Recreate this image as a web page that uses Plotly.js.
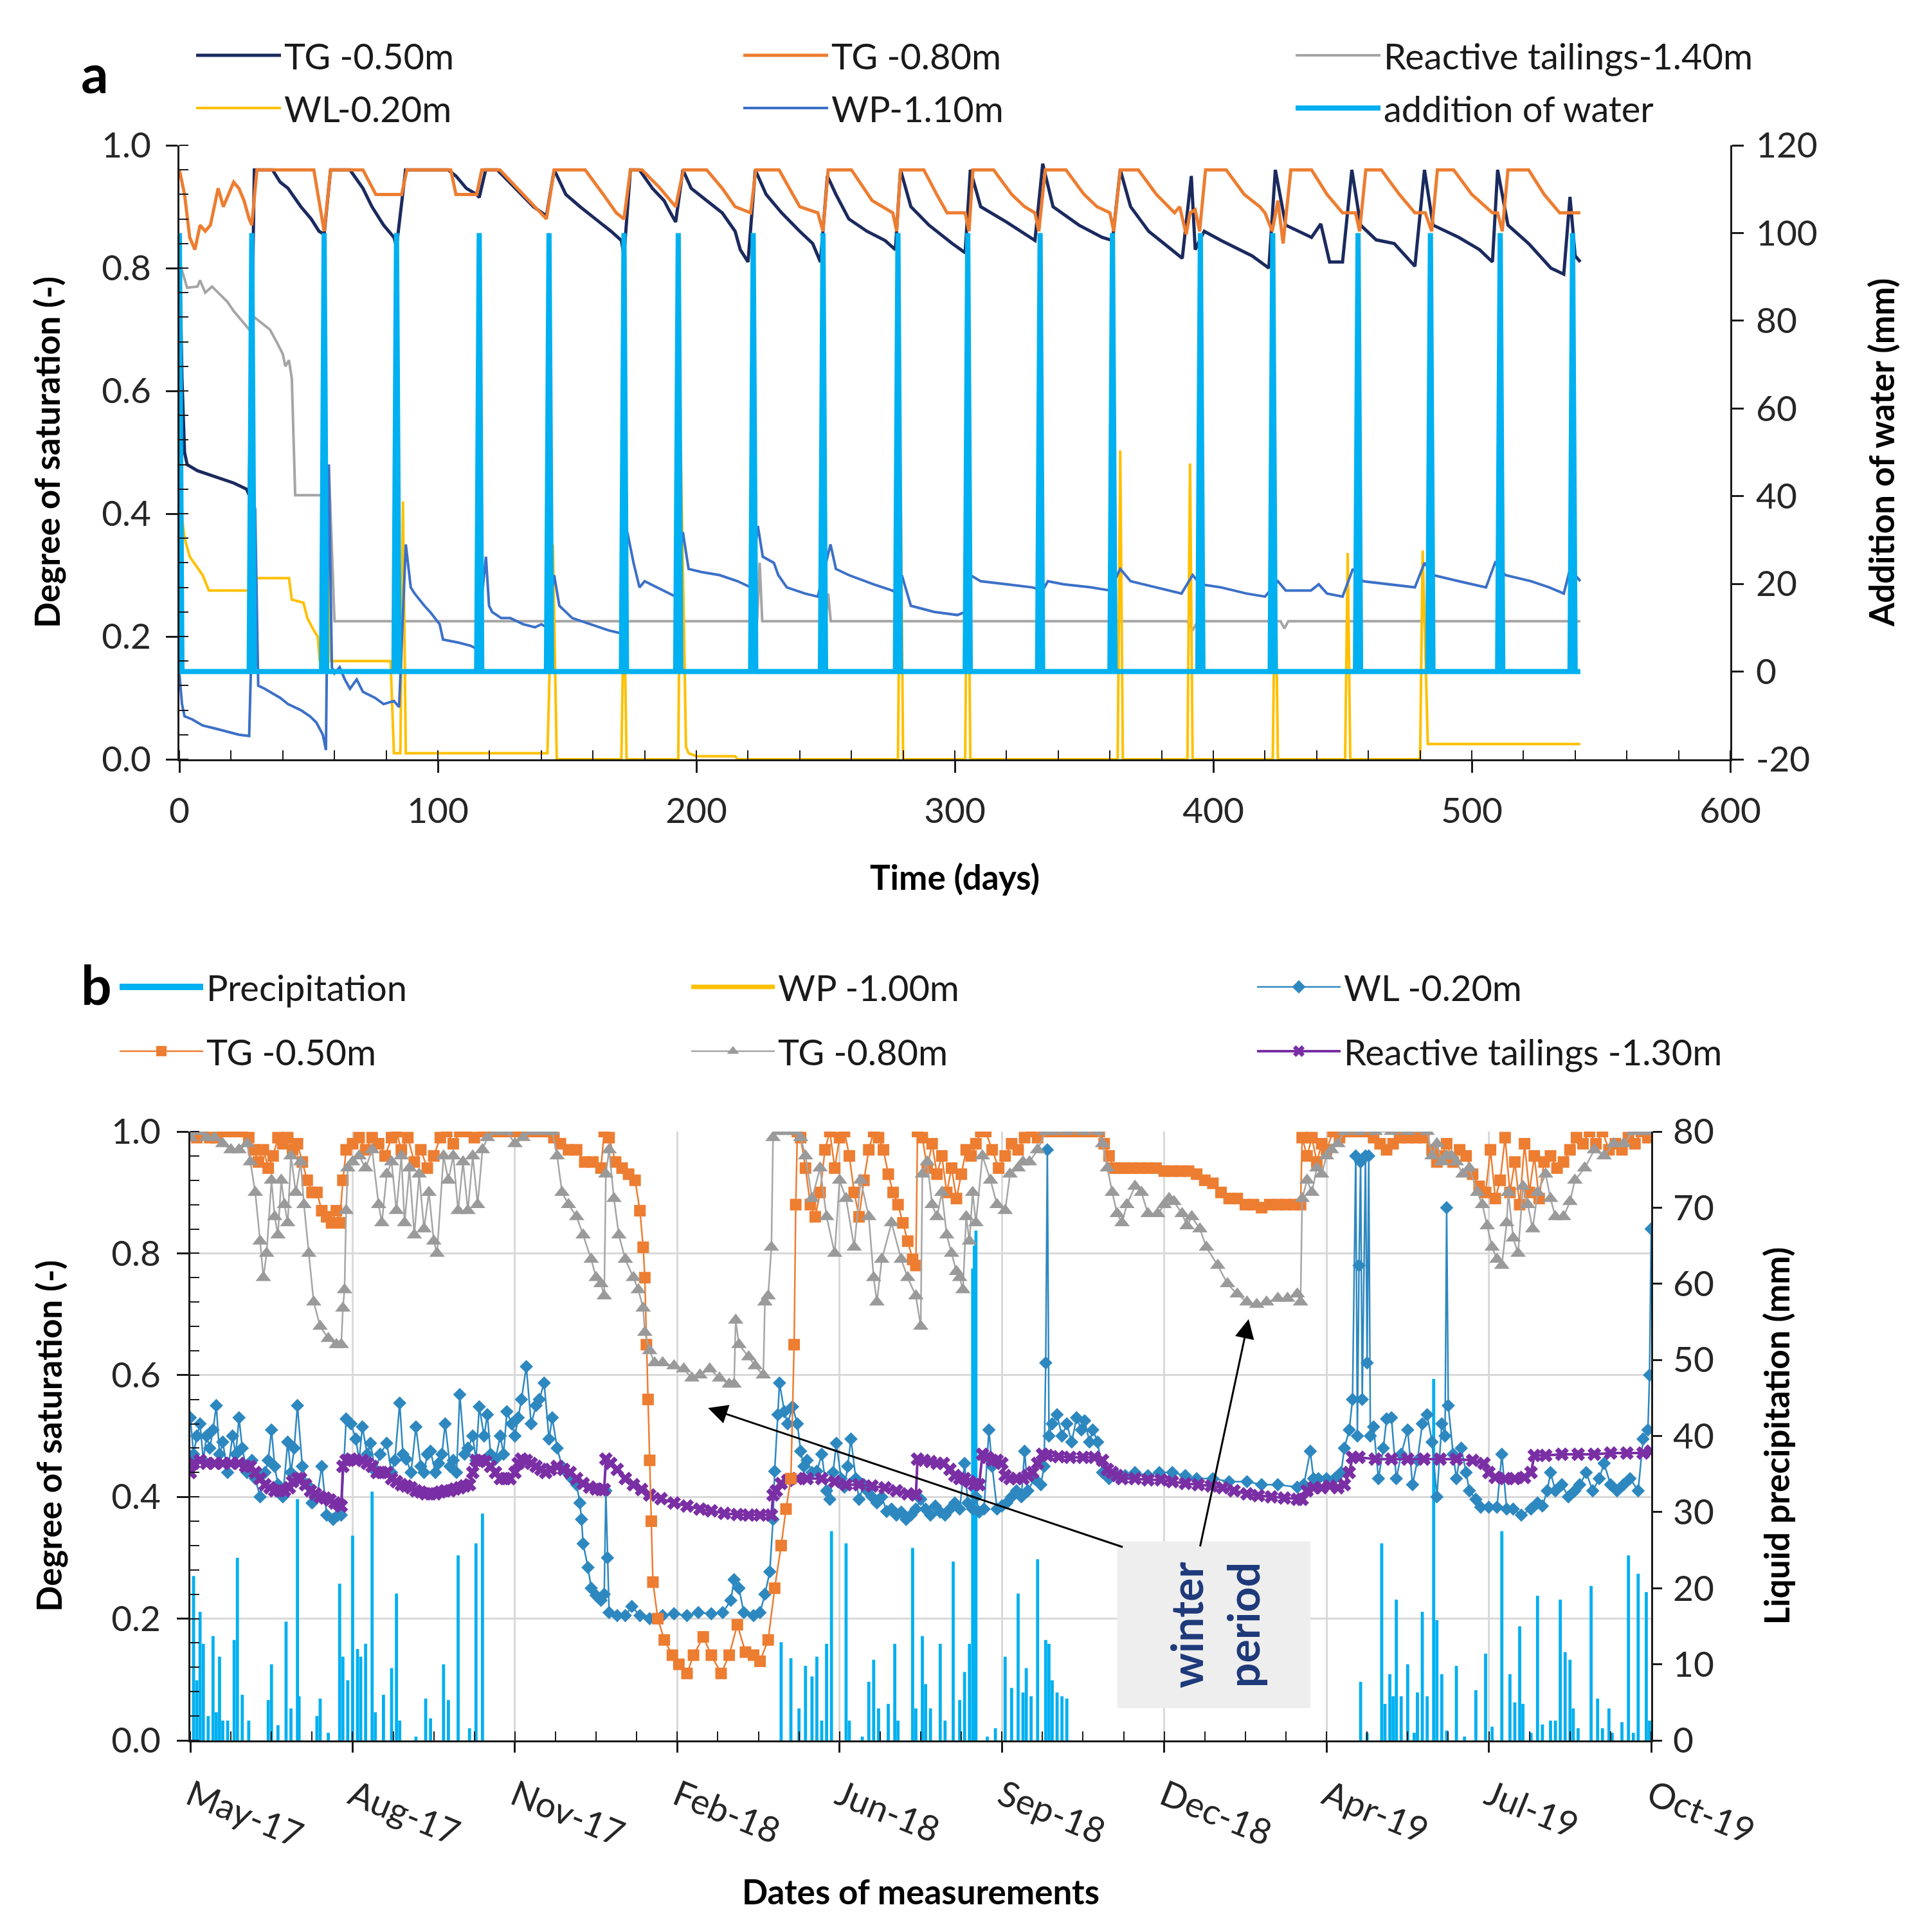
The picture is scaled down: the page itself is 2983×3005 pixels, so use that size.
<!DOCTYPE html>
<html><head><meta charset="utf-8">
<script src="https://cdn.plot.ly/plotly-3.0.1.min.js"></script>
<style>html,body{margin:0;padding:0;background:#fff}</style>
</head><body>
<div id="chart" style="width:2983px;height:3005px"></div>
<script>
// ---------------- Panel a data (day, value) ----------------
const aTG050 = [[0,0.85],[1,0.62],[2,0.5],[3,0.48],[7,0.47],[14,0.46],[21,0.45],[26,0.44],[27,0.43],[29,0.96],[36,0.96],[39,0.94],[42,0.93],[47,0.9],[51,0.88],[54,0.86],[56,0.855],[58.5,0.96],[66,0.96],[71,0.93],[74.5,0.9],[79,0.87],[83,0.85],[84,0.835],[87.5,0.96],[104,0.96],[107,0.95],[111,0.93],[115,0.92],[116,0.915],[118.5,0.96],[123,0.96],[130,0.93],[137,0.9],[142,0.885],[145,0.96],[149.5,0.92],[155,0.9],[161,0.88],[167,0.86],[171,0.845],[172,0.82],[174.5,0.96],[178,0.96],[183,0.93],[187.5,0.91],[190,0.89],[192,0.875],[194.8,0.96],[198,0.93],[204,0.91],[210,0.89],[215,0.86],[217,0.83],[220,0.81],[222.8,0.96],[227,0.92],[233,0.89],[240,0.86],[245,0.84],[248,0.81],[250.7,0.95],[254,0.92],[259,0.88],[266,0.86],[273,0.845],[277,0.83],[279,0.96],[283,0.9],[290,0.87],[299,0.84],[304,0.825],[306,0.96],[310,0.9],[320,0.875],[327,0.855],[331,0.845],[334,0.97],[338,0.9],[348,0.87],[357,0.85],[361,0.845],[364,0.96],[368,0.9],[375,0.86],[383,0.833],[388,0.816],[391.5,0.95],[393,0.83],[394.7,0.845],[396.5,0.86],[403,0.845],[410,0.83],[415,0.82],[421.5,0.8],[424,0.96],[428,0.87],[433,0.86],[438,0.85],[441.6,0.872],[445,0.81],[450,0.81],[453.6,0.96],[457,0.87],[463,0.846],[470,0.84],[478,0.803],[481.7,0.96],[485,0.87],[495,0.85],[503,0.83],[508,0.81],[510,0.96],[514,0.87],[522,0.84],[530.6,0.8],[535.6,0.79],[538,0.916],[540,0.82],[542,0.81]];
const aTG080 = [[0,0.96],[2,0.92],[4,0.85],[6,0.83],[8,0.87],[10,0.86],[12,0.87],[15,0.93],[17,0.9],[19,0.92],[21,0.94],[23,0.93],[25,0.91],[27,0.88],[28,0.87],[30,0.96],[52,0.96],[56,0.86],[58.5,0.96],[71,0.96],[76,0.92],[86,0.92],[88,0.96],[105,0.96],[107,0.92],[115,0.92],[117,0.96],[124,0.96],[133,0.92],[140,0.89],[142,0.88],[145,0.96],[157,0.96],[164,0.92],[169,0.89],[172,0.88],[174.5,0.96],[179,0.96],[186,0.93],[192,0.9],[195,0.96],[204,0.96],[210,0.93],[215,0.9],[221,0.89],[223,0.96],[232,0.96],[240,0.9],[247,0.89],[249,0.86],[251,0.96],[260,0.96],[265,0.93],[268,0.91],[276,0.89],[277.5,0.86],[279,0.96],[288,0.96],[293,0.92],[297,0.89],[304,0.89],[305.5,0.86],[307,0.96],[315,0.96],[322,0.92],[327,0.9],[331,0.89],[332.5,0.86],[335,0.96],[343,0.96],[350,0.92],[355,0.9],[360,0.89],[361.5,0.86],[364,0.96],[371,0.96],[378,0.92],[385,0.89],[387,0.9],[389.5,0.855],[391,0.89],[393,0.895],[394.7,0.86],[397,0.96],[405,0.96],[412,0.92],[418,0.9],[420,0.89],[422.8,0.86],[425,0.91],[427,0.84],[430,0.96],[438,0.96],[444,0.92],[450,0.89],[455,0.89],[456.6,0.86],[459,0.96],[465,0.96],[472,0.92],[478,0.89],[482,0.89],[484.5,0.86],[486.7,0.96],[493,0.96],[500,0.92],[508,0.89],[510,0.89],[511.8,0.86],[514,0.96],[522,0.96],[528,0.92],[534,0.89],[542,0.89]];
const aReactive = [[0,0.81],[3,0.768],[7,0.77],[8,0.78],[10,0.76],[12.6,0.77],[15,0.76],[18.6,0.745],[21,0.73],[23,0.72],[25,0.71],[27,0.7],[29,0.72],[32,0.71],[35,0.7],[37.6,0.68],[40,0.66],[41,0.64],[42.4,0.65],[43.5,0.62],[44.8,0.43],[56.7,0.43],[57.8,0.48],[60,0.225],[223.5,0.225],[224.5,0.32],[225.5,0.225],[250,0.225],[251,0.27],[252,0.225],[390,0.225],[392,0.21],[394,0.225],[426,0.225],[427.5,0.213],[429,0.225],[542,0.225]];
const aWL = [[0,0.43],[2,0.36],[4,0.33],[9,0.3],[11.4,0.275],[25.7,0.275],[27,0.275],[28,0.32],[29,0.295],[42.4,0.295],[43.5,0.26],[48,0.255],[49.5,0.23],[52,0.21],[53.5,0.2],[54.3,0.16],[57,0.16],[57.8,0.32],[58.6,0.16],[81.7,0.16],[83,0.01],[85.5,0.01],[86.5,0.42],[87.6,0.01],[142.4,0.01],[144.5,0.35],[146,0],[171,0],[172,0.27],[173,0],[193,0],[194,0.5],[196,0.02],[197,0.01],[200,0.005],[215,0.005],[216,0],[278,0],[279,0.473],[280,0],[304,0],[305,0.469],[306,0],[363,0],[364,0.503],[365,0],[390,0],[391,0.482],[392,0],[423,0],[424,0.33],[425,0],[451,0],[452,0.336],[453,0],[480,0],[481,0.34],[483,0.025],[542,0.025]];
const aWP = [[0,0.14],[1,0.09],[2,0.07],[5,0.065],[7,0.06],[9,0.055],[14,0.05],[19,0.045],[23,0.04],[27,0.038],[29.3,0.41],[30.5,0.12],[33,0.115],[39,0.1],[42,0.09],[47,0.08],[50.5,0.07],[53,0.06],[55.5,0.04],[56.7,0.015],[57.8,0.48],[59,0.15],[60,0.14],[62,0.15],[64,0.13],[66,0.115],[68.6,0.13],[71,0.11],[75.7,0.1],[79,0.09],[83,0.095],[85,0.085],[87.6,0.35],[89.5,0.28],[91,0.27],[94.8,0.25],[97,0.24],[100.7,0.22],[102,0.195],[108,0.19],[112.6,0.185],[115,0.18],[118.6,0.33],[119.8,0.25],[121,0.24],[124.5,0.23],[128,0.23],[133,0.22],[137.6,0.215],[140,0.22],[142,0.215],[145,0.3],[147,0.25],[152,0.23],[159,0.22],[166,0.21],[171,0.205],[173.3,0.37],[175.7,0.32],[178,0.28],[180,0.29],[185,0.28],[190,0.27],[192,0.265],[194.8,0.37],[197,0.31],[202,0.305],[209,0.3],[216,0.29],[221,0.28],[223.8,0.38],[225.7,0.33],[230,0.32],[231.7,0.3],[235,0.28],[242,0.27],[247,0.265],[251.9,0.35],[254,0.31],[259,0.3],[268.6,0.285],[275.7,0.275],[278,0.27],[279.5,0.3],[283,0.25],[292,0.24],[301,0.235],[304,0.24],[306,0.3],[310,0.29],[320,0.285],[330,0.28],[334,0.275],[336,0.29],[342,0.285],[352.6,0.28],[360,0.275],[364,0.31],[368,0.29],[377.7,0.28],[387.7,0.27],[392,0.3],[395,0.285],[403,0.28],[412.8,0.27],[420,0.265],[425,0.29],[428,0.275],[437.8,0.275],[440.8,0.285],[444,0.27],[450,0.265],[454,0.31],[457.9,0.29],[468,0.285],[478,0.28],[481.7,0.32],[485,0.3],[495,0.29],[505.5,0.28],[509,0.32],[513,0.3],[523,0.29],[530,0.28],[535.6,0.27],[538,0.31],[542,0.29]];
const aWater = [[0,100],[1,0],[27,0],[28,100],[29,0],[55,0],[56,100],[57,0],[83,0],[84,100],[85,0],[115,0],[116,100],[117,0],[142,0],[143,100],[144,0],[171,0],[172,100],[173,0],[192,0],[193,100],[194,0],[221,0],[222,100],[223,0],[248,0],[249,100],[250,0],[277,0],[278,100],[279,0],[304,0],[305,100],[306,0],[332,0],[333,100],[334,0],[360,0],[361,100],[362,0],[394,0],[395,100],[396,0],[422,0],[423,100],[424,0],[455,0],[456,100],[457,0],[483,0],[484,100],[485,0],[510,0],[511,100],[512,0],[538,0],[539,100],[540,0],[542,0]];
const aWaterTickVals = [-20,0,20,40,60,80,100,120];
const aWaterTickText = ['-20','0','20','40','60','80','100','120'];

// ---------------- Panel b data (days since 1 May 2017, value) ----------------
const bDateTickDays = [0,100,200,300,400,500,600,700,800,900];
const bDateTickText = ['May-17','Aug-17','Nov-17','Feb-18','Jun-18','Sep-18','Dec-18','Apr-19','Jul-19','Oct-19'];
const bTG050 = [[0,1.0],[4,0.99],[8,1.0],[12,0.99],[16,0.99],[20,1.0],[24,1.0],[28,1.0],[32,1.0],[36,0.99],[39,0.97],[42,0.95],[45,0.97],[48,0.94],[51,0.96],[54,0.99],[57,0.98],[60,0.99],[63,0.97],[66,0.98],[69,0.95],[72,0.92],[75,0.9],[78,0.9],[81,0.87],[84,0.86],[87,0.85],[90,0.87],[92,0.85],[94,0.92],[96,0.97],[100,0.98],[104,0.99],[108,0.97],[112,0.99],[116,0.98],[120,0.96],[124,0.99],[127,1.0],[130,0.97],[134,0.99],[138,0.95],[142,0.97],[146,0.94],[150,0.96],[154,0.99],[158,1.0],[162,0.98],[166,1.0],[170,1.0],[175,0.99],[180,1.0],[185,1.0],[190,1.0],[195,1.0],[200,1.0],[205,1.0],[210,1.0],[215,1.0],[220,1.0],[224,0.99],[228,0.98],[233,0.97],[238,0.97],[243,0.95],[248,0.95],[253,0.94],[255,1.0],[258,0.99],[262,0.95],[266,0.94],[270,0.93],[274,0.92],[277,0.87],[279,0.81],[280,0.76],[281,0.65],[282,0.56],[283,0.46],[284,0.36],[285,0.26],[288,0.2],[292,0.165],[297,0.14],[301,0.125],[306,0.11],[310,0.14],[316,0.17],[321,0.14],[327,0.11],[332,0.14],[337,0.19],[342,0.145],[347,0.14],[351,0.13],[356,0.165],[360,0.25],[364,0.32],[367,0.38],[370,0.43],[372,0.65],[373,0.88],[374,1.0],[376,0.99],[379,0.94],[382,0.88],[385,0.86],[388,0.9],[391,0.97],[394,1.0],[397,0.94],[400,0.99],[403,1.0],[406,0.96],[409,0.9],[412,0.86],[415,0.92],[418,0.97],[421,1.0],[424,0.99],[427,0.97],[430,0.93],[433,0.9],[436,0.88],[439,0.85],[442,0.82],[445,0.79],[447,0.78],[448,1.0],[451,0.99],[454,0.94],[457,0.98],[460,0.93],[463,0.96],[466,0.9],[469,0.94],[472,0.89],[475,0.93],[478,0.97],[481,0.96],[484,0.98],[487,1.0],[490,1.0],[494,0.97],[498,0.94],[502,0.96],[506,0.98],[510,0.97],[514,0.99],[518,1.0],[522,0.99],[526,1.0],[530,1.0],[535,1.0],[540,1.0],[545,1.0],[550,1.0],[555,1.0],[560,1.0],[563,0.98],[566,0.96],[569,0.94],[572,0.94],[576,0.94],[580,0.94],[585,0.94],[590,0.94],[595,0.94],[600,0.935],[605,0.935],[610,0.935],[615,0.935],[620,0.93],[625,0.92],[630,0.915],[635,0.9],[640,0.89],[645,0.89],[650,0.88],[655,0.88],[660,0.875],[665,0.88],[670,0.88],[675,0.88],[680,0.88],[684,0.88],[685,0.99],[688,0.96],[691,0.99],[694,0.95],[697,0.98],[700,0.97],[704,1.0],[708,0.99],[712,1.0],[716,1.0],[720,1.0],[725,1.0],[729,0.99],[733,0.98],[737,0.97],[741,0.98],[745,0.99],[750,0.99],[755,0.99],[760,0.99],[765,0.97],[768,0.95],[771,0.96],[774,0.98],[778,0.95],[782,0.97],[786,0.96],[790,0.93],[794,0.91],[798,0.9],[801,0.97],[804,0.89],[807,0.92],[810,0.99],[813,0.9],[816,0.95],[819,0.88],[822,0.98],[825,0.9],[828,0.96],[831,0.89],[834,0.95],[838,0.96],[842,0.94],[846,0.95],[850,0.97],[854,0.99],[858,0.98],[862,1.0],[866,0.98],[870,1.0],[874,0.97],[878,0.98],[882,0.97],[886,0.99],[890,0.98],[894,1.0],[898,0.99],[900,1.0]];
const bTG080 = [[0,0.99],[5,1.0],[10,0.99],[15,0.99],[20,0.98],[25,0.97],[30,0.97],[35,0.98],[37,0.95],[40,0.9],[43,0.82],[45,0.76],[47,0.8],[50,0.92],[52,0.86],[54,0.83],[56,0.92],[58,0.88],[60,0.85],[62,0.96],[65,0.9],[68,0.95],[70,0.88],[73,0.8],[76,0.72],[80,0.68],[85,0.66],[90,0.65],[93,0.65],[94,0.71],[95,0.74],[96,0.87],[97,0.94],[100,0.95],[104,0.96],[108,0.94],[112,0.97],[116,0.88],[118,0.85],[121,0.93],[124,0.95],[127,0.87],[130,0.96],[132,0.85],[135,0.94],[138,0.83],[141,0.93],[144,0.84],[147,0.9],[150,0.82],[152,0.8],[156,0.96],[159,0.92],[162,0.96],[165,0.87],[168,0.95],[171,0.87],[174,0.96],[177,0.88],[180,0.97],[183,0.99],[189,1.0],[195,1.0],[200,0.98],[205,0.99],[210,1.0],[215,1.0],[220,1.0],[223,1.0],[226,0.96],[229,0.9],[233,0.88],[238,0.86],[242,0.83],[247,0.79],[250,0.76],[253,0.75],[255,0.73],[256,0.93],[258,0.97],[261,0.89],[264,0.83],[268,0.79],[273,0.76],[276,0.74],[279,0.71],[280,0.67],[283,0.64],[286,0.62],[291,0.62],[298,0.615],[304,0.61],[309,0.595],[314,0.6],[320,0.61],[326,0.595],[332,0.585],[335,0.585],[336,0.69],[338,0.65],[344,0.63],[348,0.615],[353,0.6],[354,0.72],[356,0.73],[358,0.81],[359,0.99],[362,1.0],[367,1.0],[372,1.0],[376,0.99],[379,0.96],[383,0.89],[388,0.94],[392,0.86],[397,0.8],[400,0.92],[404,0.89],[409,0.81],[413,0.92],[418,0.86],[421,0.76],[423,0.72],[426,0.79],[432,0.85],[438,0.79],[442,0.76],[447,0.73],[450,0.68],[451,0.93],[454,0.95],[457,0.88],[460,0.86],[463,0.9],[466,0.83],[469,0.8],[472,0.77],[474,0.76],[476,0.74],[478,0.86],[480,0.82],[482,0.9],[484,0.85],[488,0.96],[493,0.92],[497,0.88],[502,0.87],[505,0.93],[510,0.94],[513,0.95],[517,0.95],[522,0.97],[527,1.0],[531,1.0],[540,1.0],[550,1.0],[559,1.0],[562,0.98],[565,0.94],[568,0.9],[571,0.865],[574,0.85],[577,0.88],[582,0.91],[586,0.9],[590,0.865],[596,0.865],[600,0.88],[603,0.89],[606,0.885],[611,0.865],[614,0.845],[617,0.86],[622,0.84],[626,0.81],[633,0.78],[639,0.75],[645,0.733],[651,0.72],[657,0.716],[663,0.72],[670,0.726],[676,0.726],[682,0.733],[684,0.72],[685,0.89],[688,0.92],[691,0.9],[694,0.94],[697,0.93],[700,0.96],[703,0.97],[707,0.98],[711,1.0],[720,1.0],[730,1.0],[740,1.0],[750,1.0],[762,1.0],[765,0.96],[768,0.98],[771,0.95],[774,0.96],[777,0.96],[780,0.95],[784,0.93],[788,0.94],[793,0.9],[796,0.88],[799,0.845],[802,0.81],[805,0.79],[808,0.78],[811,0.85],[812,0.9],[815,0.825],[818,0.8],[821,0.91],[824,0.88],[827,0.84],[830,0.9],[835,0.93],[838,0.89],[841,0.86],[846,0.86],[850,0.885],[853,0.92],[859,0.94],[865,0.97],[871,0.96],[877,0.98],[883,0.98],[889,1.0],[894,1.0],[898,1.0]];
const bWL = [[0,0.53],[2,0.47],[4,0.5],[6,0.52],[8,0.46],[10,0.5],[12,0.48],[14,0.51],[16,0.55],[18,0.47],[20,0.49],[23,0.44],[26,0.5],[28,0.47],[30,0.53],[32,0.48],[35,0.44],[38,0.46],[40,0.43],[43,0.4],[46,0.44],[48,0.46],[50,0.51],[52,0.45],[54,0.42],[57,0.4],[60,0.49],[62,0.44],[64,0.48],[66,0.55],[69,0.45],[72,0.42],[75,0.39],[78,0.4],[81,0.45],[84,0.37],[88,0.363],[91,0.37],[93,0.37],[96,0.528],[99,0.52],[102,0.495],[104,0.46],[106,0.515],[109,0.47],[111,0.488],[114,0.442],[117,0.47],[121,0.488],[124,0.44],[126,0.46],[129,0.554],[131,0.47],[133,0.462],[136,0.44],[139,0.515],[142,0.45],[144,0.44],[146,0.47],[148,0.475],[151,0.44],[153,0.455],[155,0.47],[157,0.52],[160,0.45],[162,0.46],[164,0.44],[166,0.568],[169,0.47],[171,0.48],[174,0.5],[176,0.46],[178,0.548],[181,0.5],[183,0.535],[185,0.47],[188,0.462],[191,0.5],[193,0.47],[195,0.54],[198,0.52],[200,0.5],[202,0.53],[204,0.56],[207,0.614],[210,0.52],[213,0.55],[215,0.56],[218,0.587],[221,0.495],[223,0.53],[226,0.48],[229,0.45],[232,0.44],[235,0.43],[238,0.42],[240,0.39],[241,0.363],[242,0.323],[245,0.284],[247,0.25],[250,0.238],[253,0.23],[255,0.24],[256,0.41],[257,0.3],[258,0.21],[263,0.205],[268,0.205],[272,0.22],[277,0.205],[283,0.2],[291,0.205],[298,0.208],[306,0.205],[313,0.21],[321,0.208],[328,0.21],[333,0.23],[335,0.264],[338,0.25],[341,0.21],[347,0.205],[351,0.21],[354,0.24],[357,0.277],[359,0.363],[360,0.442],[362,0.535],[363,0.587],[366,0.54],[368,0.52],[371,0.548],[374,0.52],[376,0.475],[378,0.45],[380,0.46],[383,0.44],[386,0.442],[389,0.47],[392,0.41],[394,0.396],[396,0.44],[398,0.488],[401,0.43],[403,0.416],[405,0.45],[407,0.495],[410,0.43],[412,0.396],[415,0.42],[417,0.41],[420,0.4],[423,0.39],[426,0.4],[429,0.376],[432,0.38],[435,0.37],[438,0.375],[441,0.363],[444,0.37],[447,0.38],[450,0.396],[453,0.38],[456,0.37],[459,0.385],[462,0.375],[465,0.37],[468,0.38],[471,0.39],[474,0.38],[477,0.455],[479,0.39],[482,0.38],[484,0.4],[486,0.375],[489,0.38],[492,0.51],[494,0.45],[497,0.38],[500,0.385],[503,0.39],[506,0.4],[509,0.41],[512,0.4],[514,0.475],[516,0.41],[520,0.43],[524,0.42],[526,0.45],[527,0.62],[528,0.97],[529,0.5],[531,0.52],[534,0.535],[537,0.5],[540,0.52],[543,0.49],[546,0.53],[549,0.51],[551,0.525],[554,0.49],[556,0.51],[559,0.49],[562,0.44],[566,0.43],[571,0.435],[576,0.435],[582,0.44],[590,0.435],[597,0.44],[605,0.44],[613,0.435],[620,0.43],[630,0.43],[640,0.425],[651,0.425],[660,0.42],[670,0.42],[682,0.416],[686,0.42],[690,0.475],[692,0.43],[695,0.43],[700,0.43],[705,0.43],[709,0.44],[711,0.48],[714,0.51],[716,0.56],[718,0.96],[719,0.5],[720,0.78],[721,0.95],[722,0.56],[724,0.96],[725,0.62],[726,0.96],[727,0.5],[729,0.515],[732,0.43],[735,0.48],[737,0.528],[740,0.53],[743,0.43],[746,0.47],[750,0.51],[753,0.42],[756,0.46],[759,0.52],[762,0.535],[765,0.49],[768,0.4],[771,0.52],[773,0.5],[774,0.875],[775,0.55],[778,0.47],[780,0.43],[783,0.48],[786,0.44],[788,0.41],[792,0.396],[795,0.383],[800,0.383],[805,0.383],[808,0.47],[811,0.38],[815,0.38],[820,0.37],[826,0.38],[830,0.39],[833,0.385],[836,0.41],[838,0.44],[841,0.41],[845,0.42],[849,0.4],[853,0.41],[856,0.42],[860,0.44],[864,0.41],[868,0.43],[871,0.455],[875,0.42],[879,0.41],[883,0.42],[887,0.43],[892,0.41],[895,0.495],[898,0.51],[899,0.6],[900,0.84]];
const bReactive = [[0,0.44],[2,0.455],[6,0.46],[10,0.455],[15,0.455],[20,0.455],[25,0.455],[30,0.455],[34,0.45],[37,0.45],[40,0.44],[43,0.43],[46,0.42],[49,0.415],[52,0.41],[55,0.41],[58,0.41],[61,0.415],[63,0.425],[66,0.43],[68,0.43],[71,0.42],[74,0.41],[77,0.405],[80,0.4],[83,0.398],[86,0.395],[89,0.39],[92,0.387],[93,0.385],[94,0.45],[96,0.46],[99,0.462],[102,0.46],[106,0.46],[109,0.455],[112,0.45],[115,0.44],[118,0.44],[121,0.44],[124,0.43],[127,0.425],[130,0.42],[133,0.418],[136,0.415],[139,0.41],[142,0.408],[145,0.405],[148,0.405],[151,0.405],[154,0.408],[157,0.41],[160,0.41],[163,0.413],[166,0.415],[169,0.418],[172,0.42],[174,0.44],[176,0.46],[179,0.46],[182,0.458],[185,0.45],[188,0.44],[191,0.43],[194,0.43],[197,0.43],[200,0.44],[202,0.455],[204,0.462],[207,0.46],[210,0.455],[213,0.45],[216,0.445],[219,0.44],[222,0.445],[226,0.45],[230,0.445],[234,0.44],[238,0.43],[242,0.422],[246,0.416],[250,0.413],[253,0.412],[255,0.412],[256,0.462],[259,0.455],[263,0.445],[268,0.43],[273,0.42],[278,0.412],[283,0.403],[290,0.397],[298,0.39],[306,0.385],[314,0.38],[321,0.377],[329,0.373],[337,0.371],[344,0.37],[351,0.37],[358,0.37],[359,0.403],[361,0.41],[364,0.422],[368,0.427],[374,0.43],[380,0.43],[389,0.43],[397,0.425],[404,0.42],[412,0.42],[420,0.418],[428,0.415],[435,0.41],[442,0.405],[447,0.403],[448,0.462],[452,0.46],[456,0.458],[460,0.455],[464,0.455],[468,0.445],[471,0.435],[474,0.43],[477,0.43],[480,0.425],[483,0.42],[486,0.42],[488,0.47],[491,0.465],[494,0.46],[497,0.46],[500,0.455],[502,0.435],[505,0.43],[509,0.43],[513,0.43],[516,0.435],[519,0.44],[522,0.455],[525,0.47],[528,0.468],[535,0.466],[542,0.465],[550,0.465],[557,0.465],[562,0.46],[565,0.445],[568,0.44],[571,0.435],[574,0.43],[582,0.43],[590,0.428],[598,0.428],[605,0.425],[613,0.422],[621,0.42],[629,0.418],[636,0.415],[643,0.41],[651,0.405],[658,0.402],[666,0.4],[674,0.398],[682,0.396],[685,0.396],[688,0.41],[692,0.415],[697,0.415],[702,0.418],[707,0.415],[711,0.42],[714,0.44],[716,0.465],[720,0.465],[730,0.462],[740,0.462],[750,0.462],[760,0.462],[770,0.462],[780,0.462],[790,0.46],[797,0.455],[800,0.44],[804,0.432],[810,0.43],[816,0.43],[822,0.432],[826,0.44],[828,0.468],[835,0.468],[845,0.47],[855,0.47],[865,0.47],[875,0.472],[885,0.472],[895,0.472],[900,0.475]];
const bPrecip = [[2,21.6],[4,7.9],[6,16.9],[8,12.7],[11,3.2],[14,13.7],[16,3.7],[18,11],[20,2.6],[23,2.6],[27,13.2],[29,24],[32,6],[36,2.6],[48,5.3],[50,10],[54,2],[59,15.6],[62,4.2],[66,31.7],[67,5.8],[78,3.2],[80,5.5],[85,1],[92,20.6],[94,11],[97,7.9],[100,26.9],[103,12],[105,11],[108,12.7],[112,32.7],[114,3.7],[119,6],[124,9.5],[127,19.3],[129,2.6],[139,0.5],[145,5.5],[148,2.9],[156,10],[159,5.3],[165,24.3],[172,1.6],[176,25.9],[180,29.8],
[364,12.9],[370,10.8],[375,4.2],[379,9.8],[383,8.4],[386,11],[389,2.6],[392,12.7],[395,27.5],[404,25.9],[406,2.6],[414,0.5],[418,7.7],[421,10.6],[424,4.2],[430,4.8],[434,12.7],[436,2.6],[445,25.3],[447,4.2],[451,13.7],[453,7.4],[456,4.2],[462,12.7],[465,2.6],[470,23.5],[474,5.3],[477,9],[480,12.7],[482,62],[483,65],[484,67],[491,0.5],[496,1.6],[502,11],[506,6.9],[510,19.3],[513,6.3],[515,9.5],[518,5.8],[522,23.8],[527,13.2],[529,12.7],[531,7.9],[534,6.3],[537,5.8],[540,5.5],
[721,7.7],[725,1],[734,25.9],[736,4.8],[739,8.7],[741,5.8],[743,18.5],[746,5.8],[750,10],[754,1],[756,6.3],[759,16.9],[762,5.8],[766,47.5],[768,15.8],[771,8.7],[774,1.3],[780,9.8],[785,0.5],[792,6.6],[798,11.4],[802,1.8],[808,27.5],[813,8.7],[816,5],[819,15],[821,4.8],[826,1],[830,19],[833,2.1],[838,2.6],[841,2.6],[844,18.5],[847,11.6],[850,10.6],[852,4.2],[855,1.6],[863,20.3],[867,5.5],[870,1.6],[874,4.2],[876,1],[882,2.4],[886,24.3],[889,1],[892,21.9],[897,19.5],[899,2.6]];

// ---------------- helpers ----------------
const X = a => a.map(p => p[0]);
const Y = a => a.map(p => p[1]);
const FONT = 'Lato, "Open Sans", "DejaVu Sans", sans-serif';
const W = 2983, H = 3005;
const px = v => v / W, py = v => 1 - v / H;

const NAVY='#1B2A5E', ORANGE='#ED7D31', GRAY='#A5A5A5', YELLOW='#FFC000', BLUEA='#3C70C8', CYAN='#00B0F0', BLUEB='#2E88C0', PURPLE='#7A2FA5';

const traces = [
  // panel a (left axis y, right axis y2 overlay)
  {x:X(aReactive), y:Y(aReactive), xaxis:'x', yaxis:'y', mode:'lines', name:'Reactive tailings-1.40m', line:{color:GRAY, width:4}, legend:'legend3'},
  {x:X(aWL), y:Y(aWL), xaxis:'x', yaxis:'y', mode:'lines', name:'WL-0.20m', line:{color:YELLOW, width:4}, legend:'legend4'},
  {x:X(aWP), y:Y(aWP), xaxis:'x', yaxis:'y', mode:'lines', name:'WP-1.10m', line:{color:BLUEA, width:4}, legend:'legend5'},
  {x:X(aTG050), y:Y(aTG050), xaxis:'x', yaxis:'y', mode:'lines', name:'TG -0.50m', line:{color:NAVY, width:5}, legend:'legend'},
  {x:X(aTG080), y:Y(aTG080), xaxis:'x', yaxis:'y', mode:'lines', name:'TG -0.80m', line:{color:ORANGE, width:5}, legend:'legend2'},
  {x:X(aWater), y:Y(aWater), xaxis:'x', yaxis:'y2', mode:'lines', name:'addition of water', line:{color:CYAN, width:8}, legend:'legend6'},
  // panel b (main y3 right = precipitation; overlay y4 left = saturation)
  {x:X(bPrecip), y:Y(bPrecip), xaxis:'x2', yaxis:'y3', type:'bar', width:1.9, name:'Precipitation', marker:{color:CYAN, line:{width:0}}, showlegend:false},
  {x:[null], y:[null], xaxis:'x2', yaxis:'y3', mode:'lines', name:'Precipitation', line:{color:CYAN, width:10}, legend:'legend7'},
  {x:[null], y:[null], xaxis:'x2', yaxis:'y4', mode:'lines', name:'WP -1.00m', line:{color:YELLOW, width:7}, legend:'legend8'},
  {x:X(bWL), y:Y(bWL), xaxis:'x2', yaxis:'y4', mode:'lines+markers', name:'WL -0.20m', line:{color:BLUEB, width:2.5}, marker:{symbol:'diamond', size:16, color:BLUEB}, legend:'legend9'},
  {x:X(bReactive), y:Y(bReactive), xaxis:'x2', yaxis:'y4', mode:'lines+markers', name:'Reactive tailings -1.30m', line:{color:PURPLE, width:4}, marker:{symbol:'x', size:19, color:PURPLE}, legend:'legend12'},
  {x:X(bTG050), y:Y(bTG050), xaxis:'x2', yaxis:'y4', mode:'lines+markers', name:'TG -0.50m', line:{color:ORANGE, width:2.5}, marker:{symbol:'square', size:18, color:ORANGE}, legend:'legend10'},
  {x:X(bTG080), y:Y(bTG080), xaxis:'x2', yaxis:'y4', mode:'lines+markers', name:'TG -0.80m', line:{color:GRAY, width:2.5}, marker:{symbol:'triangle-up', size:21, color:'#9A9A9A'}, legend:'legend11'}
];

const tickFont = {family:FONT, size:55, color:'#262626'};
const titleFont = {family:FONT, size:53, color:'#000'};
const AX = '#1a1a1a';

const leg = (x, yc, iw) => ({x:px(x), y:py(yc), xanchor:'left', yanchor:'middle', orientation:'v',
  itemwidth:iw, font:{family:FONT, size:56, color:'#1a1a1a'}, borderwidth:0,
  bgcolor:'rgba(0,0,0,0)', itemclick:false});

const layout = {
  width:W, height:H, margin:{l:0,r:0,t:0,b:0}, paper_bgcolor:'#fff', plot_bgcolor:'rgba(0,0,0,0)',
  font:{family:FONT, size:55, color:'#262626'},
  showlegend:true,
  legend: leg(300, 86, 132),  legend2: leg(1151, 86, 132), legend3: leg(2010, 86, 132),
  legend4: leg(300, 168, 132), legend5: leg(1151, 168, 132), legend6: leg(2010, 168, 132),
  legend7: leg(181, 1535, 130), legend8: leg(1070, 1535, 130), legend9: leg(1950, 1535, 130),
  legend10: leg(181, 1635, 130), legend11: leg(1070, 1635, 130), legend12: leg(1950, 1635, 130),
  // panel a
  xaxis:{domain:[px(279), px(2691)], anchor:'y', range:[0,600], dtick:100, showgrid:false, zeroline:false,
    showline:true, linecolor:AX, linewidth:3, ticks:'outside', ticklen:18, tickwidth:3, tickcolor:AX,
    minor:{dtick:20, ticks:'inside', ticklen:14, tickwidth:2, tickcolor:AX, showgrid:false},
    tickfont:tickFont, ticklabelstandoff:12,
    title:{text:'<b>Time (days)</b>', font:titleFont, standoff:56}},
  yaxis:{domain:[py(1181), py(226)], anchor:'x', range:[0,1], dtick:0.2, tickformat:'.1f', showgrid:false, zeroline:false,
    showline:true, linecolor:AX, linewidth:3, ticks:'outside', ticklen:18, tickwidth:3, tickcolor:AX,
    minor:{dtick:0.04, ticks:'inside', ticklen:14, tickwidth:2, tickcolor:AX, showgrid:false},
    tickfont:tickFont, ticklabelstandoff:12,
    title:{text:'<b>Degree of saturation (-)</b>', font:titleFont, standoff:48}},
  yaxis2:{overlaying:'y', side:'right', anchor:'x', range:[-20,120], tickmode:'array', tickvals:aWaterTickVals, ticktext:aWaterTickText,
    showgrid:false, zeroline:false,
    showline:true, linecolor:AX, linewidth:3, ticks:'outside', ticklen:18, tickwidth:3, tickcolor:AX,
    tickfont:tickFont, ticklabelstandoff:8,
    title:{text:'<b>Addition of water (mm)</b>', font:titleFont, standoff:84}},
  // panel b
  xaxis2:{domain:[px(296), px(2568)], anchor:'y3', range:[0,900], tickmode:'array', tickvals:bDateTickDays, ticktext:bDateTickText,
    tickangle:22, showgrid:true, gridcolor:'#D9D9D9', gridwidth:3, zeroline:false,
    showline:true, linecolor:AX, linewidth:3, ticks:'outside', ticklen:16, tickwidth:3, tickcolor:AX,
    minor:{dtick:25, tick0:0, ticks:'inside', ticklen:14, tickwidth:2, tickcolor:AX, showgrid:false},
    tickfont:tickFont, ticklabelstandoff:14,
    title:{text:'<b>Dates of measurements</b>', font:titleFont, standoff:40}},
  yaxis3:{domain:[py(2707), py(1760)], anchor:'x2', side:'right', range:[0,80], dtick:10, showgrid:false, zeroline:false,
    showline:true, linecolor:AX, linewidth:3, ticks:'outside', ticklen:14, tickwidth:3, tickcolor:AX,
    tickfont:tickFont, ticklabelstandoff:6,
    title:{text:'<b>Liquid precipitation (mm)</b>', font:titleFont, standoff:82}},
  yaxis4:{overlaying:'y3', side:'left', anchor:'x2', range:[0,1], dtick:0.2, tickformat:'.1f', showgrid:true, gridcolor:'#D9D9D9', gridwidth:3, zeroline:false,
    showline:true, linecolor:AX, linewidth:3, ticks:'outside', ticklen:18, tickwidth:3, tickcolor:AX,
    minor:{dtick:0.04, ticks:'inside', ticklen:14, tickwidth:2, tickcolor:AX, showgrid:false},
    tickfont:tickFont, ticklabelstandoff:14,
    title:{text:'<b>Degree of saturation (-)</b>', font:titleFont, standoff:60}},
  shapes:[
    {type:'rect', xref:'x2', yref:'y4', x0:571, x1:690, y0:0.053, y1:0.327, fillcolor:'#EEEEEE', line:{width:0}, layer:'above'}
  ],
  annotations:[
    {text:'<b>a</b>', xref:'paper', yref:'paper', x:px(147), y:py(112), xanchor:'center', yanchor:'middle', showarrow:false, font:{family:FONT, size:84, color:'#000'}},
    {text:'<b>b</b>', xref:'paper', yref:'paper', x:px(150), y:py(1530), xanchor:'center', yanchor:'middle', showarrow:false, font:{family:FONT, size:84, color:'#000'}},
    {text:'<b>winter<br>period</b>', xref:'x2', yref:'y4', x:630.5, y:0.19, xanchor:'center', yanchor:'middle', textangle:-90, showarrow:false, font:{family:FONT, size:68, color:'#1F3A7A'}},
    {text:'', xref:'x2', yref:'y4', axref:'x2', ayref:'y4', x:319, y:0.546, ax:575, ay:0.317, showarrow:true, arrowhead:2, arrowsize:2, arrowwidth:3, arrowcolor:'#000', standoff:0},
    {text:'', xref:'x2', yref:'y4', axref:'x2', ayref:'y4', x:652, y:0.692, ax:622, ay:0.317, showarrow:true, arrowhead:2, arrowsize:2, arrowwidth:3, arrowcolor:'#000', standoff:0}
  ]
};

Plotly.newPlot('chart', traces, layout, {staticPlot:true, displayModeBar:false});
</script></body></html>
